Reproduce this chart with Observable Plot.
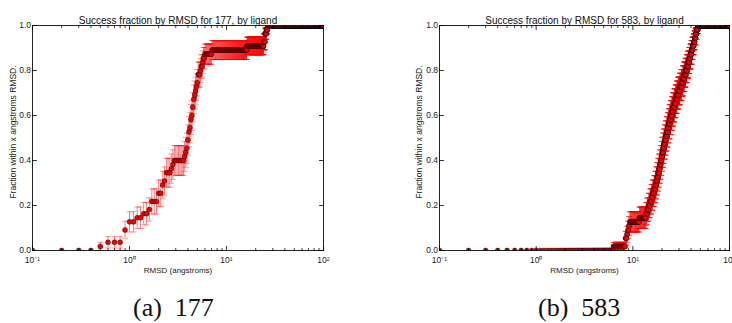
<!DOCTYPE html>
<html>
<head>
<meta charset="utf-8">
<script src="https://cdn.jsdelivr.net/npm/d3@7"></script>
<script src="https://cdn.jsdelivr.net/npm/@observablehq/plot@0.6"></script>
<style>
  html, body { margin: 0; padding: 0; background: #fff; }
  #fig { position: relative; width: 732px; height: 323px; overflow: hidden; }
  .panel { position: absolute; top: 0; }
  .sub { position: absolute; top: 295px; font-family: "Liberation Serif", "DejaVu Serif", serif;
         font-size: 26px; line-height: 26px; white-space: nowrap; color: #111; }
</style>
</head>
<body>
<div id="fig"></div>
<script>
// Best-pose RMSD (angstroms) of each ligand, one value per ligand.
const rmsd177 = [
  0.45, 0.55, 0.85, 0.85, 0.85, 0.95, 0.95, 1.15, 1.35, 1.55, 1.65, 1.65,
  1.95, 1.95, 2.15, 2.15, 2.25, 2.35, 2.35, 2.65, 2.75, 2.85,
  3.65, 3.75, 3.85, 3.95, 3.95, 4.05, 4.05, 4.15, 4.25, 4.25, 4.35,
  4.45, 4.45, 4.55, 4.55, 4.65, 4.75, 4.85, 4.95, 5.05, 5.05,
  5.35, 5.45, 5.65, 5.75, 5.95, 7.05, 16.25, 24.15, 24.95, 24.95, 25.75, 26.45
];
const rmsd583 = [
  6.25, 8.35, 8.35, 8.65, 8.85, 9.05, 9.25, 11.65, 13.65, 14.05, 14.55,
  15.05, 15.55, 16.05, 16.55, 17.05, 17.45, 17.85, 18.25, 18.65, 19.05,
  19.45, 19.85, 20.15, 20.55, 20.95, 21.45, 21.95, 22.45, 22.95, 23.45,
  24.05, 24.65, 25.35, 26.05, 26.85, 27.65, 28.55, 29.45, 30.65, 31.85,
  32.95, 34.05, 35.15, 36.25, 37.35, 38.45, 39.45, 40.45, 41.45, 42.55,
  43.55, 44.55, 45.55, 47.05
];

// RMSD cutoffs at which the success fraction is evaluated (0.1 Å steps).
const cutoffStep = 0.1;
const cutoffCount = 1000;

// Axis ticks and labels.
const xMajorTicks = [0.1, 1, 10, 100];
const xTickLabels = ["10\u207B\u00B9", "10\u2070", "10\u00B9", "10\u00B2"];
const xMinorTicks = [0.2, 0.3, 0.4, 0.5, 0.6, 0.7, 0.8, 0.9, 2, 3, 4, 5, 6, 7, 8, 9, 20, 30, 40, 50, 60, 70, 80, 90];
const yTicks = [0, 0.2, 0.4, 0.6, 0.8, 1.0];

const xLabel = "RMSD (angstroms)";
const yLabel = "Fraction within x angstroms RMSD.";

// Cumulative success fraction with binomial standard error at each cutoff.
function successCurve(rmsd) {
  const n = rmsd.length;
  const sorted = rmsd.slice().sort(d3.ascending);
  return d3.range(1, cutoffCount + 1).map(k => {
    const t = +(k * cutoffStep).toFixed(1);
    const p = d3.bisectRight(sorted, t) / n;
    const se = Math.sqrt(p * (1 - p) / n);
    return {t, p, lo: p - se, hi: p + se};
  });
}

// Inward tick drawn from the anchor point.
const tickShape = {draw(context, l) { context.moveTo(0, 0); context.lineTo(0, -l); }};
// Horizontal error-bar cap.
const capSymbol = {draw(context) { context.moveTo(-3, 0); context.lineTo(3, 0); }};

const sans = "'Liberation Sans', Arial, Helvetica, sans-serif";

function panel(id, rmsd, layout) {
  const data = successCurve(rmsd);
  const frameTicks = (values, channel, anchor, rotate, length) =>
    Plot.vector(values, {[channel]: d => d, frameAnchor: anchor, rotate, length,
      anchor: "start", shape: tickShape, stroke: "black", strokeWidth: 0.8});
  return Plot.plot({
    width: 366,
    height: 285,
    marginTop: 25,
    marginBottom: 35,
    marginLeft: layout.marginLeft,
    marginRight: layout.marginRight,
    style: {fontFamily: sans, background: "white", overflow: "visible"},
    x: {type: "log", domain: [0.1, 100]},
    y: {domain: [0, 1]},
    marks: [
      Plot.ruleX(data, {x: "t", y1: "lo", y2: "hi", stroke: "red", strokeOpacity: 0.5, strokeWidth: 1, clip: true}),
      Plot.dot(data, {x: "t", y: "lo", symbol: capSymbol, r: 3, fill: "none", stroke: "red", strokeOpacity: 0.4, strokeWidth: 1, clip: true}),
      Plot.dot(data, {x: "t", y: "hi", symbol: capSymbol, r: 3, fill: "none", stroke: "red", strokeOpacity: 0.4, strokeWidth: 1, clip: true}),
      Plot.dot(data, {x: "t", y: "p", r: 2.5, fill: "#f00000", stroke: "black", strokeWidth: 0.4, clip: true}),
      Plot.frame({stroke: "#222", strokeWidth: 1}),
      frameTicks(xMajorTicks, "x", "bottom", 0, 4),
      frameTicks(xMajorTicks, "x", "top", 180, 4),
      frameTicks(xMinorTicks, "x", "bottom", 0, 2),
      frameTicks(xMinorTicks, "x", "top", 180, 2),
      frameTicks(yTicks, "y", "left", 90, 4),
      frameTicks(yTicks, "y", "right", -90, 4),
      Plot.axisX(xMajorTicks, {tickSize: 0, tickPadding: 6, label: null, fontSize: "8.5px", fill: "#222",
        tickFormat: d => xTickLabels[xMajorTicks.indexOf(d)]}),
      Plot.axisY(yTicks, {tickSize: 0, tickPadding: 1.5, label: null, fontSize: "8.5px", fill: "#222",
        tickFormat: d => d.toFixed(1)}),
      Plot.text([`Success fraction by RMSD for ${id}, by ligand`], {text: d => d, frameAnchor: "top", dy: -2,
        fontSize: "10px", lineAnchor: "bottom", fill: "#111"}),
      Plot.text([xLabel], {text: d => d, frameAnchor: "bottom", dy: 22, fontSize: "8px", fill: "#222"}),
      Plot.text([yLabel], {text: d => d, frameAnchor: "left", dx: layout.yLabelDx, dy: -6, rotate: -90,
        textAnchor: "middle", fontSize: "8.5px", fill: "#222"})
    ]
  });
}

const fig = document.getElementById("fig");
const panels = [
  {id: "177", rmsd: rmsd177, tag: "(a)", left: 0, layout: {marginLeft: 32, marginRight: 43, yLabelDx: -19}, capCenter: 173.5},
  {id: "583", rmsd: rmsd583, tag: "(b)", left: 366, layout: {marginLeft: 73, marginRight: 3, yLabelDx: -20}, capCenter: 579}
];
for (const p of panels) {
  const wrap = document.createElement("div");
  wrap.className = "panel";
  wrap.style.left = p.left + "px";
  wrap.appendChild(panel(p.id, p.rmsd, p.layout));
  fig.appendChild(wrap);
  const cap = document.createElement("div");
  cap.className = "sub";
  cap.textContent = `${p.tag}\u2002${p.id}`;
  fig.appendChild(cap);
  cap.style.left = (p.capCenter - cap.offsetWidth / 2) + "px";
}
</script>
</body>
</html>
